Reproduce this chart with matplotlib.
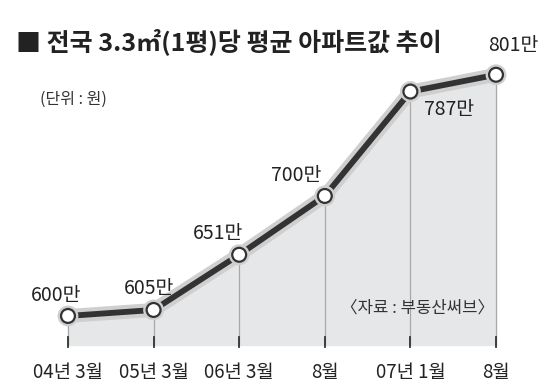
import matplotlib
matplotlib.use('Agg')
import matplotlib.pyplot as plt
import matplotlib.patheffects as pe

plt.rcParams['font.family'] = ['Noto Sans CJK KR', 'DejaVu Sans']

# data (단위: 만원)
periods = ['04년 3월', '05년 3월', '06년 3월', '8월', '07년 1월', '8월']
prices = [600, 605, 651, 700, 787, 801]
price_labels = ['600만', '605만', '651만', '700만', '787만', '801만']

x = list(range(len(prices)))
base = 575.8

fig = plt.figure(figsize=(5.49, 3.9), dpi=100)
ax = fig.add_axes([0, 0, 1, 1])
ax.set_xlim(-0.794, 5.619)
ax.set_ylim(538.3, 863.3)
ax.axis('off')

# shaded area under line
ax.fill_between(x, prices, base, color='#e6e7e9', zorder=1)

# vertical guide lines and tick marks
for xi, p in zip(x, prices):
    ax.plot([xi, xi], [base, p], color='#a8a8a8', lw=0.9, zorder=2)
    ax.plot([xi, xi], [574.0, 582.5], color='#333333', lw=1.3, zorder=2)

# line with light halo
ax.plot(x, prices, color='#333333', lw=4.2, solid_capstyle='round', zorder=4,
        path_effects=[pe.Stroke(linewidth=10, foreground='#cfcfcf'), pe.Normal()])
ax.plot(x, prices, 'o', ms=10, mfc='white', mec='#333333', mew=1.6, zorder=5,
        path_effects=[pe.Stroke(linewidth=5, foreground='#cfcfcf'), pe.Normal()])

# value labels
offsets = [(-0.14, 17), (-0.05, 18), (-0.25, 18), (-0.34, 17), (0.45, -15), (0.2, 24)]
for xi, p, lab, (dx, dy) in zip(x, prices, price_labels, offsets):
    ax.text(xi + dx, p + dy, lab, fontsize=14, color='#222222',
            ha='center', va='center', zorder=6)

# x tick labels
for xi, lab in zip(x, periods):
    ax.text(xi, 553.3, lab, fontsize=13.5, color='#222222',
            ha='center', va='center')

fig.text(0.03, 0.893, '■ 전국 3.3㎡(1평)당 평균 아파트값 추이', fontsize=18,
         fontweight='bold', color='#222222', va='center', ha='left')
fig.text(0.072, 0.745, '(단위 : 원)', fontsize=11.5, color='#333333',
         va='center', ha='left')
fig.text(0.9, 0.21, '〈자료 : 부동산써브〉', fontsize=12, color='#333333',
         va='center', ha='right', style='italic')

fig.savefig('out.png', dpi=100)
